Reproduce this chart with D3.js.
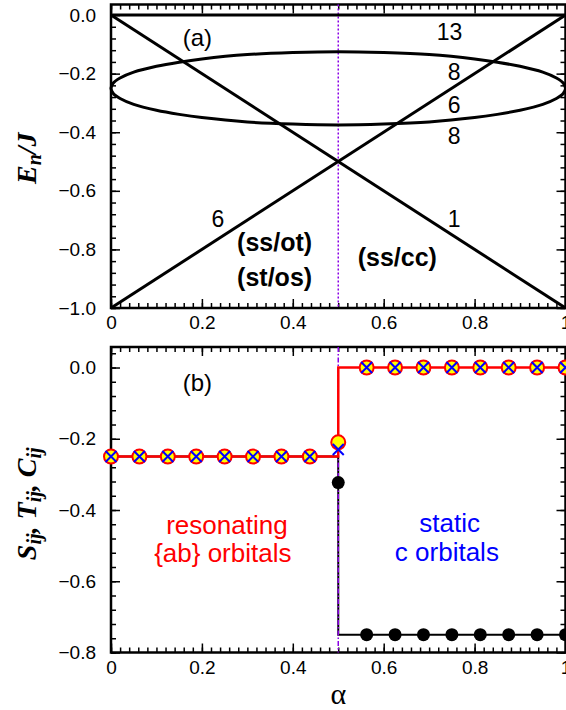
<!DOCTYPE html>
<html>
<head>
<meta charset="utf-8">
<script src="https://cdn.jsdelivr.net/npm/d3@7.9.0/dist/d3.min.js"></script>
<style>
  body { margin: 0; background: #fff; }
  svg { display: block; }
  .tick text { font-family: "Liberation Sans", Arial, sans-serif; font-size: 19px; fill: #000; }
  .domain { display: none; }
  .tick line { stroke: #000; stroke-width: 1.5; }
</style>
</head>
<body>
<svg id="chart" width="566" height="710"></svg>
<script>
// ---- panel (a): energy levels vs alpha ----
const lineAlpha = [0, 1];
const level13 = [0, 0];
const level1 = [0, -1];
const level6 = [-1, 0];

// ellipse (upper and lower branch)
const ellAlpha = [0, 0.005, 0.02, 0.05, 0.1, 0.15, 0.2, 0.3, 0.4, 0.5, 0.6, 0.7, 0.8, 0.85, 0.9, 0.95, 0.98, 0.995, 1];
const ellUpper = [-0.25, -0.232, -0.215, -0.195, -0.175, -0.161, -0.15, -0.135, -0.128, -0.125, -0.128, -0.135, -0.15, -0.161, -0.175, -0.195, -0.215, -0.232, -0.25];
const ellLower = [-0.25, -0.268, -0.285, -0.305, -0.325, -0.339, -0.35, -0.365, -0.372, -0.375, -0.372, -0.365, -0.35, -0.339, -0.325, -0.305, -0.285, -0.268, -0.25];

const degText = ['13', '8', '6', '8', '6', '1'];
const degAlpha = [0.745, 0.755, 0.755, 0.755, 0.235, 0.755];
const degE = [-0.058, -0.195, -0.307, -0.413, -0.695, -0.695];

const phaseText = ['(ss/ot)', '(st/os)', '(ss/cc)'];
const phaseAlpha = [0.36, 0.36, 0.63];
const phaseE = [-0.775, -0.894, -0.826];

// ---- panel (b): correlations vs alpha ----
const ptAlpha = [0, 0.0625, 0.125, 0.1875, 0.25, 0.3125, 0.375, 0.4375, 0.5, 0.5625, 0.625, 0.6875, 0.75, 0.8125, 0.875, 0.9375, 1];
const sVals = [-0.25, -0.25, -0.25, -0.25, -0.25, -0.25, -0.25, -0.25, -0.21, 0, 0, 0, 0, 0, 0, 0, 0];
const tVals = [-0.25, -0.25, -0.25, -0.25, -0.25, -0.25, -0.25, -0.25, -0.23, 0, 0, 0, 0, 0, 0, 0, 0];
const cVals = [-0.25, -0.25, -0.25, -0.25, -0.25, -0.25, -0.25, -0.25, -0.323, -0.75, -0.75, -0.75, -0.75, -0.75, -0.75, -0.75, -0.75];

// finer sampling of the jumps at alpha = 1/2
const stepAlpha = [0, 0.4999, 0.5, 0.5001, 1];
const sStep = [-0.25, -0.25, -0.21, 0, 0];
const cStep = [-0.25, -0.25, -0.323, -0.75, -0.75];

const critAlpha = 0.5;

const svg = d3.select('#chart');
const x = d3.scaleLinear().domain([0, 1]).range([111, 565.5]);
const yA = d3.scaleLinear().domain([-1, 0.036]).range([308, 4.5]);
const yB = d3.scaleLinear().domain([-0.8, 0.0576]).range([652.5, 347]);

const fmtY = d3.format('.1f');
const fmtX = (d) => (d === 0 || d === 1 ? String(d) : d3.format('.1f')(d));

function frame(y, yMajor, yMinor) {
  const g = svg.append('g');
  const [y0, y1] = y.range();
  const xMinor = d3.range(0, 1.0001, 0.02);
  const xMajor = d3.range(0, 1.0001, 0.2);

  g.append('g').attr('transform', `translate(0,${y0})`)
    .call(d3.axisBottom(x).tickValues(xMinor).tickSize(-5).tickFormat(''));
  g.append('g').attr('transform', `translate(0,${y0})`)
    .call(d3.axisBottom(x).tickValues(xMajor).tickSize(-9).tickPadding(8).tickFormat(fmtX));
  g.append('g').attr('transform', `translate(0,${y1})`)
    .call(d3.axisTop(x).tickValues(xMinor).tickSize(-5).tickFormat(''));
  g.append('g').attr('transform', `translate(0,${y1})`)
    .call(d3.axisTop(x).tickValues(xMajor).tickSize(-9).tickFormat(''));

  g.append('g').attr('transform', `translate(${x(0)},0)`)
    .call(d3.axisLeft(y).tickValues(yMinor).tickSize(-5).tickFormat(''));
  g.append('g').attr('transform', `translate(${x(0)},0)`)
    .call(d3.axisLeft(y).tickValues(yMajor).tickSize(-9).tickPadding(15).tickFormat(fmtY));
  g.append('g').attr('transform', `translate(${x(1)},0)`)
    .call(d3.axisRight(y).tickValues(yMinor).tickSize(-5).tickFormat(''));
  g.append('g').attr('transform', `translate(${x(1)},0)`)
    .call(d3.axisRight(y).tickValues(yMajor).tickSize(-9).tickFormat(''));

  g.selectAll('.tick text').filter(function () { return this.textContent === ''; }).remove();

  svg.append('rect')
    .attr('x', x(0)).attr('y', y1)
    .attr('width', x(1) - x(0)).attr('height', y0 - y1)
    .attr('fill', 'none').attr('stroke', '#000').attr('stroke-width', 2.5);
}

function sansLabel(txt, px, py, opts) {
  svg.append('text')
    .attr('x', px).attr('y', py)
    .attr('text-anchor', 'middle')
    .attr('dominant-baseline', 'central')
    .attr('font-family', '"Liberation Sans", Arial, sans-serif')
    .attr('font-size', opts.size)
    .attr('font-weight', opts.weight || 'normal')
    .attr('fill', opts.color || '#000')
    .text(txt);
}

// ===== panel (a) =====
frame(yA, d3.range(-1, 0.0001, 0.2), d3.range(-1, 0.04, 0.04));

const lnA = d3.line().x((d) => x(d[0])).y((d) => yA(d[1]));

svg.append('line')
  .attr('x1', x(critAlpha)).attr('x2', x(critAlpha))
  .attr('y1', yA.range()[1]).attr('y2', yA.range()[0])
  .attr('stroke', '#8a00e6').attr('stroke-width', 1.5).attr('stroke-dasharray', '2,2');

[level13, level1, level6].forEach((lv) => {
  svg.append('path')
    .attr('d', lnA(lineAlpha.map((a, i) => [a, lv[i]])))
    .attr('fill', 'none').attr('stroke', '#000').attr('stroke-width', 3);
});

const loop = ellAlpha.map((a, i) => [a, ellUpper[i]])
  .concat(ellAlpha.slice(1, -1).reverse().map((a) => [a, ellLower[ellAlpha.indexOf(a)]]));
svg.append('path')
  .attr('d', d3.line().x((d) => x(d[0])).y((d) => yA(d[1])).curve(d3.curveCatmullRomClosed.alpha(0.5))(loop))
  .attr('fill', 'none').attr('stroke', '#000').attr('stroke-width', 3);

degText.forEach((t, i) => sansLabel(t, x(degAlpha[i]), yA(degE[i]), { size: 23 }));
phaseText.forEach((t, i) => sansLabel(t, x(phaseAlpha[i]), yA(phaseE[i]), { size: 25, weight: 'bold' }));
sansLabel('(a)', x(0.19), yA(-0.075), { size: 24 });

// y label (a)
const labA = svg.append('text')
  .attr('transform', `translate(36,${(yA.range()[0] + yA.range()[1]) / 2 + 2}) rotate(-90)`)
  .attr('text-anchor', 'middle')
  .attr('font-family', '"Liberation Serif", "Times New Roman", serif')
  .attr('font-weight', 'bold').attr('font-style', 'italic')
  .attr('font-size', 28);
labA.append('tspan').text('E');
labA.append('tspan').attr('dy', 5).attr('font-size', 20).text('n');
labA.append('tspan').attr('dy', -5).text('/J');

// ===== panel (b) =====
frame(yB, d3.range(-0.8, 0.0001, 0.2), d3.range(-0.8, 0.05, 0.04));

const lnB = d3.line().x((d) => x(d[0])).y((d) => yB(d[1]));

svg.append('path')
  .attr('d', lnB(stepAlpha.map((a, i) => [a, cStep[i]])))
  .attr('fill', 'none').attr('stroke', '#000').attr('stroke-width', 2);

svg.append('line')
  .attr('x1', x(critAlpha)).attr('x2', x(critAlpha))
  .attr('y1', yB.range()[1]).attr('y2', yB.range()[0])
  .attr('stroke', '#8a00e6').attr('stroke-width', 1.5).attr('stroke-dasharray', '5,2,1.5,2');

svg.append('g').selectAll('circle').data(ptAlpha).join('circle')
  .attr('cx', (d) => x(d)).attr('cy', (d, i) => yB(cVals[i]))
  .attr('r', 6.5).attr('fill', '#000');

svg.append('path')
  .attr('d', lnB(stepAlpha.map((a, i) => [a, sStep[i]])))
  .attr('fill', 'none').attr('stroke', '#ff0000').attr('stroke-width', 2.5);

svg.append('g').selectAll('circle').data(ptAlpha).join('circle')
  .attr('cx', (d) => x(d)).attr('cy', (d, i) => yB(sVals[i]))
  .attr('r', 7).attr('fill', '#ffff00').attr('stroke', '#ff0000').attr('stroke-width', 2);

const xs = svg.append('g').attr('stroke', '#0000ff').attr('stroke-width', 2);
ptAlpha.forEach((a, i) => {
  const cx = x(a), cy = yB(tVals[i]);
  xs.append('path').attr('d', `M${cx - 5.5},${cy - 5.5}L${cx + 5.5},${cy + 5.5}M${cx - 5.5},${cy + 5.5}L${cx + 5.5},${cy - 5.5}`);
});

sansLabel('(b)', x(0.19), yB(-0.041), { size: 24 });
sansLabel('resonating', x(0.255), yB(-0.442), { size: 26, color: '#ff0000' });
sansLabel('{ab} orbitals', x(0.246), yB(-0.522), { size: 26, color: '#ff0000' });
sansLabel('static', x(0.745), yB(-0.437), { size: 26, color: '#0000ff' });
sansLabel('c orbitals', x(0.739), yB(-0.518), { size: 26, color: '#0000ff' });

// y label (b)
const labB = svg.append('text')
  .attr('transform', `translate(36,${(yB.range()[0] + yB.range()[1]) / 2 + 4}) rotate(-90)`)
  .attr('text-anchor', 'middle')
  .attr('font-family', '"Liberation Serif", "Times New Roman", serif')
  .attr('font-weight', 'bold').attr('font-style', 'italic')
  .attr('font-size', 28);
[['S', 'ij', ', '], ['T', 'ij', ', '], ['C', 'ij', '']].forEach(([base, sub, sep]) => {
  labB.append('tspan').text(base);
  labB.append('tspan').attr('dy', 5).attr('font-size', 20).text(sub);
  labB.append('tspan').attr('dy', -5).text(sep);
});

// x label
svg.append('text')
  .attr('x', x(0.5)).attr('y', 704)
  .attr('text-anchor', 'middle')
  .attr('font-family', '"Liberation Serif", "Times New Roman", serif')
  .attr('font-size', 30)
  .text('α');
</script>
</body>
</html>
